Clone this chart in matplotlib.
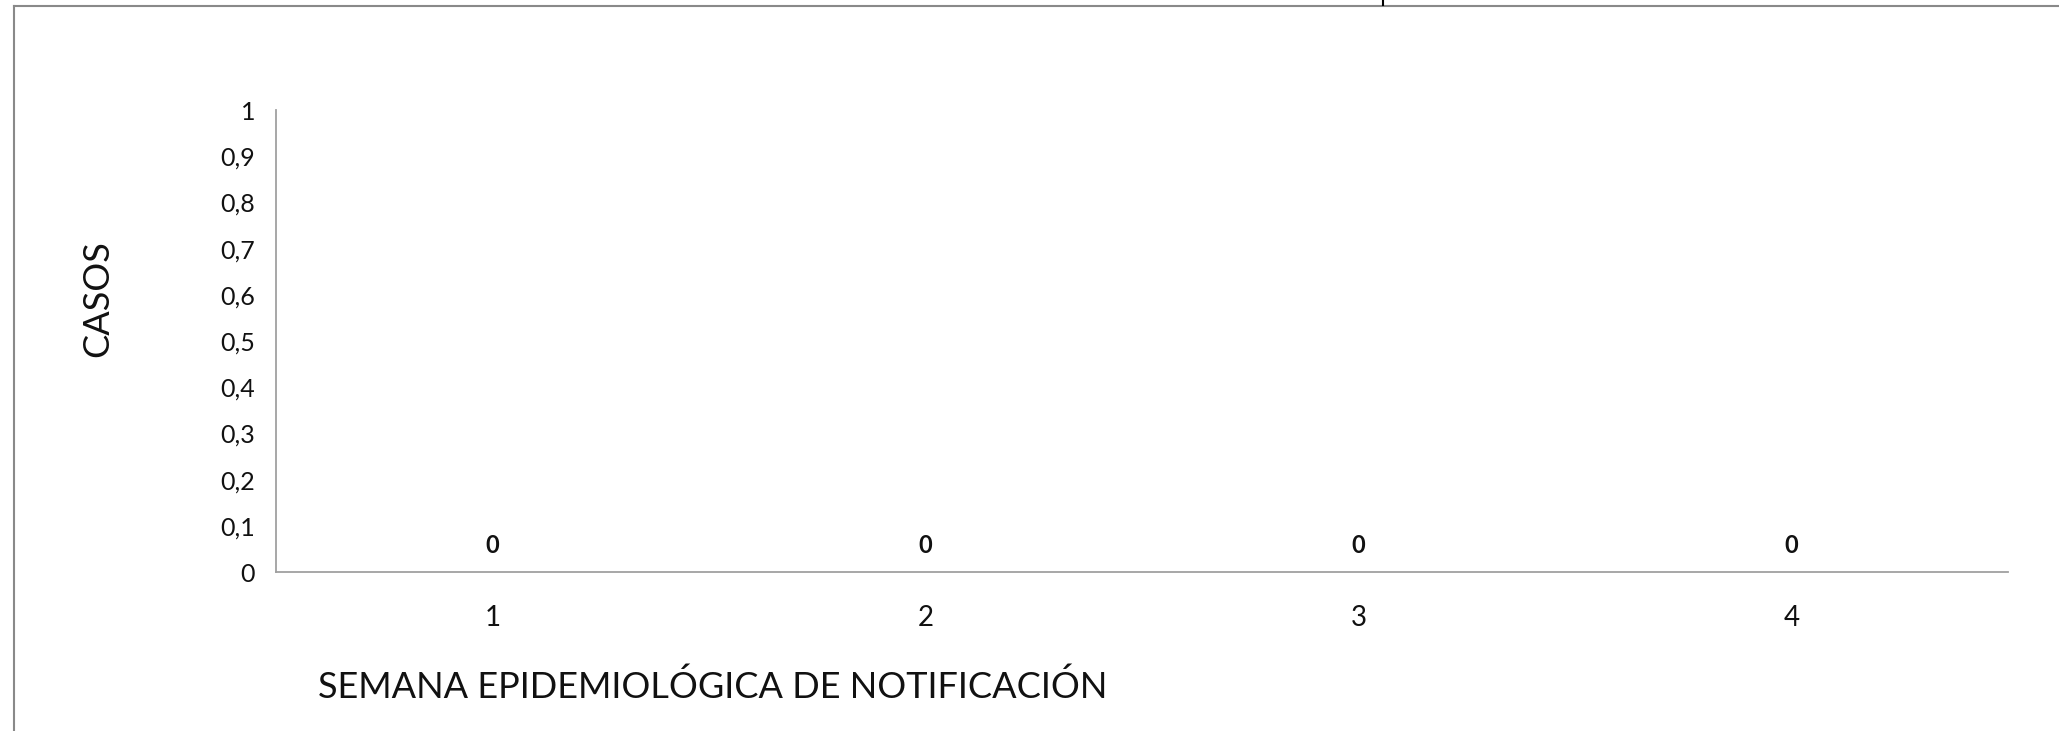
import matplotlib
matplotlib.use("Agg")
import matplotlib.pyplot as plt
from matplotlib.lines import Line2D

# ---- data ----
weeks = ["1", "2", "3", "4"]
cases = [0, 0, 0, 0]
ytick_values = [0, 0.1, 0.2, 0.3, 0.4, 0.5, 0.6, 0.7, 0.8, 0.9, 1]
ytick_labels = ["0", "0,1", "0,2", "0,3", "0,4", "0,5", "0,6", "0,7", "0,8", "0,9", "1"]
xlabel_text = "SEMANA EPIDEMIOLÓGICA DE NOTIFICACIÓN"
ylabel_text = "CASOS"

plt.rcParams['font.family'] = ['Lato', 'DejaVu Sans']

W, H = 2059, 731
fig = plt.figure(figsize=(W / 100, H / 100), dpi=100)
fig.patch.set_facecolor("white")

# axes placement (pixels -> figure fraction)
ax_l, ax_r, ax_t, ax_b = 276, 2008, 110, 572
ax = fig.add_axes([ax_l / W, 1 - ax_b / H, (ax_r - ax_l) / W, (ax_b - ax_t) / H])

x = list(range(len(weeks)))
bars = ax.bar(x, cases, width=0.6, color="#4F81BD")
ax.bar_label(bars, labels=[str(v) for v in cases], padding=11,
             fontsize=17, fontweight="bold", color="#111111")

ax.set_xlim(-0.5, len(weeks) - 0.5)
ax.set_ylim(0, 1)
ax.set_xticks(x)
ax.set_xticklabels(weeks, fontsize=20)
ax.set_yticks(ytick_values)
ax.set_yticklabels(ytick_labels, fontsize=18)
ax.tick_params(axis="both", length=0, colors="#111111")
ax.tick_params(axis="y", pad=15)
ax.tick_params(axis="x", pad=24)

for s in ["top", "right"]:
    ax.spines[s].set_visible(False)
for s in ["left", "bottom"]:
    ax.spines[s].set_color("#a0a0a0")
    ax.spines[s].set_linewidth(1.3)

ax.set_ylabel(ylabel_text, fontsize=26, va="center", ha="center", color="#111111")
ax.yaxis.set_label_coords((98 - ax_l) / (ax_r - ax_l), (ax_b - 299) / (ax_b - ax_t))
ax.set_xlabel(xlabel_text, fontsize=26, va="center", ha="center", color="#111111")
ax.xaxis.set_label_coords((713 - ax_l) / (ax_r - ax_l), (ax_b - 687) / (ax_b - ax_t))

# outer frame (chart area border partially visible)
fig.add_artist(Line2D([14 / W, 14 / W], [0, 1 - 6 / H], transform=fig.transFigure,
                      color="#898989", linewidth=1.5))
fig.add_artist(Line2D([14 / W, 1], [1 - 6 / H, 1 - 6 / H], transform=fig.transFigure,
                      color="#898989", linewidth=1.5))
fig.add_artist(Line2D([1383 / W, 1383 / W], [1 - 5 / H, 1], transform=fig.transFigure,
                      color="black", linewidth=1.5))

fig.savefig("out.png", dpi=100, facecolor="white")
